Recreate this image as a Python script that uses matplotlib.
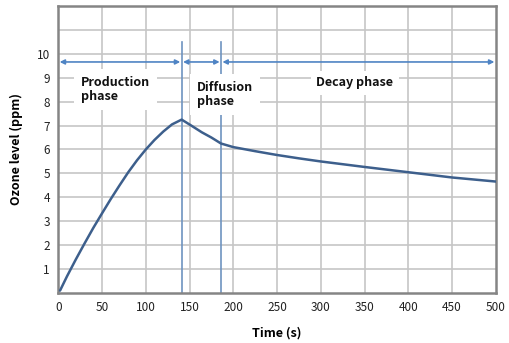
import matplotlib
matplotlib.use("Agg")
import matplotlib.pyplot as plt

plt.rcParams['font.family'] = ['Noto Sans CJK KR', 'DejaVu Sans']

# Data
time_s = [2, 10, 20, 30, 40, 50, 60, 70, 80, 90, 100, 110, 120, 130, 141,
          152, 164, 175, 186, 200, 225, 250, 275, 300, 350, 400, 450, 500]
ozone_ppm = [0.1, 0.7, 1.4, 2.07, 2.72, 3.33, 3.93, 4.5, 5.05, 5.55, 6.0, 6.4, 6.75, 7.05, 7.25,
             7.0, 6.72, 6.5, 6.25, 6.1, 5.93, 5.77, 5.63, 5.5, 5.27, 5.05, 4.83, 4.66]

phase_bounds = [0, 141, 186, 500]
phase_labels = ["Production\nphase", "Diffusion\nphase", "Decay phase"]
x_ticks = [0, 50, 100, 150, 200, 250, 300, 350, 400, 450, 500]
y_ticks = [1, 2, 3, 4, 5, 6, 7, 8, 9, 10]

fig = plt.figure(figsize=(5.09, 3.43), dpi=100)
ax = fig.add_axes([0.1145, 0.1458, 0.974 - 0.1145, 0.9825 - 0.1458])
ax.set_xlim(0, 500)
ax.set_ylim(0, 12)

# grid
for x in x_ticks[1:-1]:
    ax.axvline(x, color='#c6c6c6', lw=1.2, zorder=1)
for y in range(1, 12):
    ax.axhline(y, color='#c6c6c6', lw=1.2, zorder=1)

ax.set_xticks(x_ticks)
ax.set_yticks(y_ticks)
ax.tick_params(length=0, labelsize=8.5, colors='#222222', pad=6)
for s in ax.spines.values():
    s.set_color('#858585')
    s.set_linewidth(1.8)

# phase lines
for b in phase_bounds[1:3]:
    ax.plot([b, b], [0, 10.5], color='#6e93c0', lw=1.2, zorder=2)

# arrows
arrow_y = 9.66
for a, b in zip(phase_bounds[:-1], phase_bounds[1:]):
    ax.annotate('', xy=(b, arrow_y), xytext=(a, arrow_y),
                arrowprops=dict(arrowstyle='<|-|>', color='#4f84c4', lw=1.2,
                                mutation_scale=7, shrinkA=1, shrinkB=1),
                zorder=3)

# labels with white boxes
ax.text(26, 8.5, phase_labels[0], fontsize=9, fontweight='bold', ha='left', va='center',
        linespacing=1.15, color='#111111',
        bbox=dict(facecolor='white', edgecolor='none', pad=5), zorder=4)
ax.text(158, 8.3, phase_labels[1], fontsize=9, fontweight='bold', ha='left', va='center',
        linespacing=1.15, color='#111111',
        bbox=dict(facecolor='white', edgecolor='none', pad=5), zorder=4)
ax.text(339, 8.8, phase_labels[2], fontsize=9, fontweight='bold', ha='center', va='center',
        color='#111111',
        bbox=dict(facecolor='white', edgecolor='none', pad=4), zorder=4)

# curve
ax.plot(time_s, ozone_ppm, color='#3d5f8c', lw=1.8, zorder=5, solid_capstyle='round')

ax.set_xlabel('Time (s)', fontsize=9, fontweight='bold', labelpad=9)
ax.set_ylabel('Ozone level (ppm)', fontsize=9, fontweight='bold', labelpad=10)

fig.savefig('out.png', dpi=100)
